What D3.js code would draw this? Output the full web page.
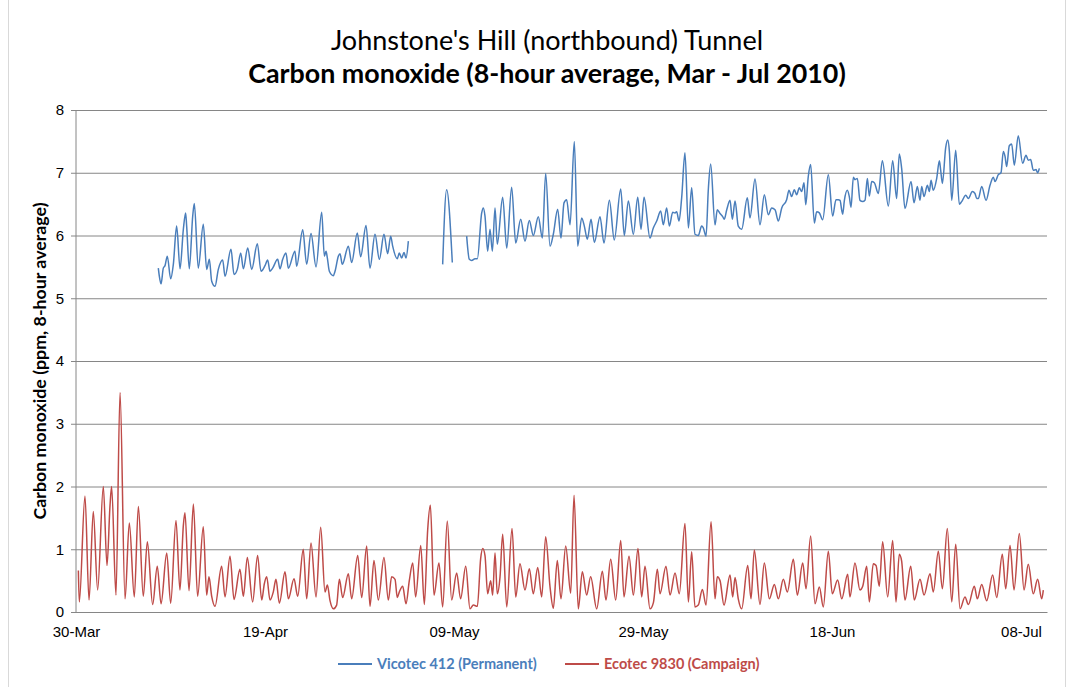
<!DOCTYPE html>
<html>
<head>
<meta charset="utf-8">
<script src="https://cdn.jsdelivr.net/npm/d3@7"></script>
<style>
  body { margin: 0; background: #fff; }
  svg { font-family: Lato, 'Noto Sans', sans-serif; }
</style>
</head>
<body>
<div id="chart"></div>
<script>
// chart text
const titleLine1 = "Johnstone's Hill (northbound) Tunnel"
const titleLine2 = 'Carbon monoxide (8-hour average, Mar - Jul 2010)'
const yLabel = 'Carbon monoxide (ppm, 8-hour average)'
const seriesNames = ['Vicotec 412 (Permanent)', 'Ecotec 9830 (Campaign)']
const seriesColors = ['#4a7ebb', '#be4b48']

// axes
const startDate = '30-Mar-2010'
const dayRange = [0, 102.75]
const tickLabels = ['30-Mar', '19-Apr', '09-May', '29-May', '18-Jun', '08-Jul']
const yTicks = [0, 1, 2, 3, 4, 5, 6, 7, 8]

// [days since 30-Mar, ppm]; null = no data
const vicotec = [
  [8.71,5.48],[8.82,5.35],[9.0,5.23],[9.24,5.48],[9.42,5.52],[9.66,5.67],[10.02,5.31],[10.3,5.54],
  [10.65,6.15],[11.01,5.47],[11.36,6.1],[11.6,6.36],[11.71,6.15],[11.99,5.47],[12.35,6.31],[12.52,6.51],
  [12.94,5.48],[13.47,6.18],[13.83,5.46],[14.11,5.62],[14.36,5.27],[14.71,5.19],[15.06,5.46],[15.52,5.61],
  [15.77,5.35],[16.4,5.78],[16.72,5.38],[17.07,5.46],[17.43,5.72],[17.71,5.47],[18.17,5.8],[18.59,5.46],
  [19.19,5.87],[19.58,5.43],[20.0,5.52],[20.28,5.61],[20.53,5.43],[20.81,5.48],[21.34,5.62],[21.59,5.47],
  [21.87,5.62],[22.22,5.72],[22.47,5.48],[23.17,5.75],[23.35,5.51],[23.99,6.09],[24.41,5.54],[24.87,6.03],
  [25.4,5.5],[26.0,6.37],[26.28,5.67],[26.46,5.75],[26.6,5.64],[26.81,5.43],[27.23,5.36],[27.41,5.43],
  [27.76,5.67],[27.94,5.71],[28.18,5.54],[28.82,5.83],[29.17,5.57],[29.77,6.04],[30.12,5.66],[30.69,6.16],
  [31.11,5.48],[31.64,6.02],[32.1,5.62],[32.59,6.02],[32.98,5.71],[33.3,5.99],[33.51,5.83],[34.0,5.63],
  [34.21,5.72],[34.46,5.64],[34.71,5.73],[34.92,5.64],[35.17,5.91],
  null,
  [38.8,5.54],[39.22,6.73],[39.82,5.57],
  null,
  [41.34,5.99],[41.62,5.62],[41.87,5.6],[42.22,5.63],[42.47,5.63],[42.93,6.36],[43.1,6.44],[43.28,6.31],
  [43.56,5.75],[43.81,6.1],[44.06,5.75],[44.34,6.44],[44.58,5.86],[45.15,6.61],[45.58,5.8],[46.1,6.77],
  [46.53,5.88],[47.06,6.26],[47.51,5.91],[47.97,6.24],[48.39,6.0],[48.92,6.3],[49.35,5.96],[49.7,6.99],
  [50.16,5.83],[50.51,6.02],[50.97,6.42],[51.32,5.96],[51.64,6.52],[51.92,6.57],[52.28,6.17],[52.73,7.5],
  [53.09,5.83],[53.51,6.28],[53.79,6.15],[54.11,5.94],[54.5,6.26],[54.85,5.89],[55.45,6.3],[55.87,5.88],
  [56.44,6.56],[56.96,5.93],[57.64,6.74],[58.02,6.0],[58.45,6.55],[58.98,6.02],[59.44,6.61],[59.79,6.1],
  [60.11,6.61],[60.74,5.96],[61.09,6.12],[61.45,6.23],[61.87,6.39],[62.15,6.17],[62.5,6.44],[62.79,6.15],
  [63.14,6.37],[63.39,6.36],[63.56,6.38],[63.81,6.23],[64.09,6.6],[64.44,7.32],[64.8,6.12],[65.15,6.76],
  [65.5,6.02],[65.85,6.0],[66.21,6.15],[66.38,6.12],[66.67,5.99],[66.91,6.73],[67.16,7.14],[67.62,6.17],
  [67.86,6.41],[68.15,6.35],[68.43,6.3],[68.6,6.26],[68.86,6.41],[69.21,6.56],[69.45,6.26],[69.74,6.55],
  [70.08,6.15],[70.44,6.1],[71.04,6.6],[71.32,6.28],[71.85,6.9],[72.38,6.17],[72.84,6.65],[73.26,6.33],
  [73.62,6.44],[73.97,6.41],[74.32,6.23],[74.68,6.44],[75.2,6.57],[75.45,6.72],[75.73,6.62],[76.01,6.73],
  [76.26,6.65],[76.54,6.76],[76.79,6.7],[77.04,6.84],[77.22,6.49],[77.49,6.94],[77.74,7.13],[78.13,6.2],
  [78.38,6.38],[78.66,6.36],[79.01,6.25],[79.61,6.97],[80.07,6.31],[80.42,6.57],[80.67,6.57],[80.85,6.56],
  [81.03,6.4],[81.13,6.34],[81.31,6.56],[81.62,6.72],[81.83,6.62],[82.01,6.45],[82.26,6.93],[82.43,6.89],
  [82.68,6.91],[82.96,6.56],[83.25,6.54],[83.49,6.56],[83.74,6.91],[83.95,6.63],[84.2,6.86],[84.48,6.84],
  [84.9,6.67],[85.33,7.19],[85.96,6.47],[86.42,7.19],[86.84,6.59],[87.12,7.3],[87.37,7.07],[87.72,6.43],
  [88.36,6.86],[88.68,6.52],[89.03,6.78],[89.31,6.56],[89.49,6.78],[89.74,6.62],[90.09,6.8],[90.3,6.7],
  [90.48,6.88],[90.72,6.72],[91.08,6.91],[91.36,7.19],[91.5,7.04],[91.68,6.83],[92.03,7.4],[92.25,7.52],
  [92.42,7.34],[92.67,6.56],[93.09,7.36],[93.47,6.5],[93.72,6.54],[94.15,6.64],[94.43,6.59],[94.85,6.7],
  [95.13,6.67],[95.31,6.59],[95.48,6.59],[95.84,6.78],[96.3,6.56],[96.72,6.8],[97.07,6.93],[97.25,6.86],
  [97.6,6.97],[97.88,7.0],[98.13,7.34],[98.31,7.26],[98.48,7.1],[98.76,7.43],[99.01,7.46],[99.29,7.12],
  [99.71,7.59],[100.17,7.15],[100.53,7.28],[100.77,7.2],[101.02,7.21],[101.3,7.04],[101.59,7.05],[101.76,7.0],
  [101.94,7.07]
]

const ecotec = [
  [0.25,0.66],[0.35,0.16],[0.95,1.85],[1.38,0.19],[1.83,1.6],[2.29,0.35],[2.89,2.0],[3.28,0.74],
  [3.6,1.7],[3.77,2.0],[4.23,0.27],[4.66,3.5],[5.19,0.21],[5.64,1.42],[6.17,0.24],[6.6,1.68],
  [7.12,0.25],[7.55,1.12],[8.11,0.12],[8.6,0.73],[9.0,0.13],[9.6,0.94],[10.02,0.14],[10.58,1.46],
  [11.0,0.35],[11.36,1.38],[11.53,1.58],[11.96,0.34],[12.42,1.72],[12.87,0.25],[13.47,1.36],[13.83,0.27],
  [14.07,0.56],[14.36,0.25],[14.71,0.09],[15.41,0.73],[15.77,0.24],[16.3,0.89],[16.72,0.2],[17.35,0.68],
  [17.71,0.25],[18.13,0.87],[18.69,0.16],[19.22,0.9],[19.65,0.19],[19.93,0.45],[20.18,0.56],[20.53,0.19],
  [20.88,0.32],[21.16,0.52],[21.52,0.14],[22.12,0.64],[22.47,0.21],[23.07,0.53],[23.46,0.25],[24.05,1.0],
  [24.41,0.21],[24.87,1.1],[25.4,0.24],[25.89,1.35],[26.35,0.32],[26.6,0.43],[26.88,0.18],[27.23,0.05],
  [27.58,0.11],[27.87,0.52],[28.22,0.23],[28.82,0.61],[29.17,0.21],[29.81,0.9],[30.23,0.23],[30.76,1.05],
  [31.11,0.09],[31.53,0.82],[31.99,0.19],[32.59,0.87],[33.05,0.19],[33.4,0.56],[33.76,0.52],[34.0,0.23],
  [34.21,0.32],[34.57,0.41],[34.92,0.13],[35.27,0.5],[35.63,0.78],[35.94,0.24],[36.48,1.06],[36.86,0.12],
  [37.21,1.3],[37.5,1.7],[37.88,0.27],[38.41,0.78],[38.8,0.08],[39.29,1.45],[39.75,0.19],[40.28,0.62],
  [40.7,0.21],[41.24,0.73],[41.69,0.05],[42.05,0.11],[42.47,0.09],[42.82,0.85],[43.04,1.01],[43.28,0.9],
  [43.56,0.29],[43.88,0.5],[44.09,0.27],[44.34,0.94],[44.58,0.29],[44.87,0.56],[45.15,1.24],[45.58,0.08],
  [46.14,1.33],[46.53,0.24],[46.98,0.77],[47.51,0.35],[47.97,0.69],[48.39,0.29],[48.86,0.71],[49.28,0.24],
  [49.7,1.2],[50.16,0.4],[50.51,0.06],[50.93,0.82],[51.32,0.21],[51.82,1.05],[52.35,0.3],[52.7,1.86],
  [53.15,0.05],[53.58,0.64],[54.04,0.27],[54.46,0.56],[55.1,0.05],[55.7,0.65],[56.08,0.19],[56.58,0.84],
  [57.11,0.19],[57.64,1.14],[57.99,0.24],[58.52,0.89],[58.98,0.27],[59.47,1.01],[59.86,0.24],[60.21,0.73],
  [60.74,0.05],[61.1,0.15],[61.52,0.68],[61.8,0.29],[62.43,0.73],[62.86,0.27],[63.39,0.62],[63.84,0.29],
  [64.44,1.41],[64.8,0.16],[65.15,0.96],[65.5,0.08],[65.85,0.11],[66.28,0.36],[66.67,0.11],[67.2,1.44],
  [67.62,0.21],[67.86,0.56],[68.15,0.5],[68.57,0.11],[69.21,0.59],[69.49,0.24],[69.74,0.55],[70.08,0.21],
  [70.44,0.05],[71.08,0.74],[71.43,0.21],[71.78,0.99],[72.38,0.12],[72.84,0.78],[73.37,0.21],[73.9,0.44],
  [74.32,0.21],[74.85,0.52],[75.27,0.32],[75.91,0.84],[76.33,0.27],[76.9,0.78],[77.25,0.37],[77.74,1.21],
  [78.2,0.13],[78.66,0.4],[79.08,0.08],[79.61,0.97],[80.03,0.29],[80.6,0.51],[81.03,0.21],[81.66,0.6],
  [81.9,0.24],[82.43,0.78],[82.96,0.35],[83.25,0.41],[83.67,0.73],[83.95,0.16],[84.37,0.77],[84.66,0.74],
  [85.0,0.41],[85.36,1.12],[85.89,0.24],[86.42,1.14],[86.77,0.16],[87.12,0.92],[87.37,0.81],[87.72,0.19],
  [88.33,0.73],[88.71,0.19],[89.31,0.52],[89.74,0.27],[90.37,0.61],[90.72,0.32],[91.25,0.97],[91.68,0.37],
  [92.2,1.33],[92.67,0.16],[93.09,1.08],[93.55,0.05],[94.07,0.24],[94.43,0.12],[95.06,0.41],[95.38,0.21],
  [95.84,0.44],[96.37,0.18],[97.0,0.59],[97.43,0.23],[98.02,0.92],[98.38,0.37],[98.84,1.06],[99.26,0.35],
  [99.82,1.25],[100.32,0.35],[100.77,0.76],[101.3,0.29],[101.76,0.52],[102.19,0.21],[102.36,0.35]
]

const W = 1074
const H = 687
const margin = { top: 110, right: 27, bottom: 75, left: 76 }
const width  = W - margin.left - margin.right
const height = H - margin.top  - margin.bottom

const parseDate = d3.timeParse('%d-%b-%Y')
const t0 = parseDate(startDate)
const dayToDate = day => new Date(t0.getTime() + day * 864e5)
const tickDates = tickLabels.map(s => parseDate(s + '-2010'))

// scales
const xScale = d3.scaleTime()
    .domain(dayRange.map(dayToDate))
    .range([0, width])

const yScale = d3.scaleLinear()
    .domain([0, 8])
    .range([height, 0])

const root = d3.select('#chart')
    .append('svg')
    .attr('width', W)
    .attr('height', H)

// outer chart border
root.append('rect')
    .attr('x', 8.5).attr('y', -1)
    .attr('width', 1057).attr('height', H + 2)
    .attr('fill', 'none')
    .attr('stroke', '#d9d9d9')

const svg = root.append('g')
    .attr('transform', `translate(${margin.left},${margin.top})`)

// gridlines + y axis
svg.append('g')
    .attr('class', 'y-axis')
    .call(d3.axisLeft(yScale).tickValues(yTicks).tickSize(5).tickPadding(7))
    .call(g => g.select('.domain').remove())
    .call(g => g.selectAll('.tick line').attr('stroke', '#868686'))
    .call(g => g.selectAll('.tick').append('line')
        .attr('x2', width)
        .attr('stroke', '#868686'))
    .selectAll('text')
        .style('font-size', '15px')
        .style('fill', '#000')

// x axis
svg.append('g')
    .attr('class', 'x-axis')
    .attr('transform', `translate(0,${height})`)
    .call(d3.axisBottom(xScale)
        .tickValues(tickDates)
        .tickSize(0)
        .tickPadding(14)
        .tickFormat((d, i) => tickLabels[i]))
    .call(g => g.select('.domain').attr('stroke', '#868686'))
    .selectAll('text')
        .style('font-size', '15px')
        .style('fill', '#000')

svg.append('line')
    .attr('x1', 0).attr('x2', 0)
    .attr('y1', 0).attr('y2', height)
    .attr('stroke', '#868686')

// lines, smoothed a little like the hourly source data
const line = d3.line()
    .defined(d => d !== null)
    .curve(d3.curveMonotoneX)
    .x(d => xScale(dayToDate(d[0])))
    .y(d => yScale(d[1]))

svg.append('path')
    .datum(vicotec)
    .attr('d', line)
    .attr('fill', 'none')
    .attr('stroke', seriesColors[0])
    .attr('stroke-width', 1.5)
    .attr('stroke-linejoin', 'round')

svg.append('path')
    .datum(ecotec)
    .attr('d', line)
    .attr('fill', 'none')
    .attr('stroke', seriesColors[1])
    .attr('stroke-width', 1.5)
    .attr('stroke-linejoin', 'round')

// titles
root.append('text')
    .attr('x', 547).attr('y', 50)
    .attr('text-anchor', 'middle')
    .style('font-size', '27px')
    .text(titleLine1)

root.append('text')
    .attr('x', 547).attr('y', 83)
    .attr('text-anchor', 'middle')
    .style('font-size', '26.8px')
    .style('font-weight', 'bold')
    .text(titleLine2)

root.append('text')
    .attr('transform', `translate(46,${margin.top + height / 2}) rotate(-90)`)
    .attr('text-anchor', 'middle')
    .style('font-size', '17.8px')
    .style('font-weight', 'bold')
    .text(yLabel)

// legend
const legendX = [338, 565]
seriesNames.forEach((name, i) => {
    const g = root.append('g').attr('transform', `translate(${legendX[i]},664)`)
    g.append('line')
        .attr('x1', 0).attr('x2', 34)
        .attr('stroke', seriesColors[i])
        .attr('stroke-width', 2)
    g.append('text')
        .attr('x', 39).attr('y', 5)
        .style('font-size', '14.5px')
        .style('font-weight', 'bold')
        .style('fill', seriesColors[i])
        .text(name)
})
</script>
</body>
</html>
